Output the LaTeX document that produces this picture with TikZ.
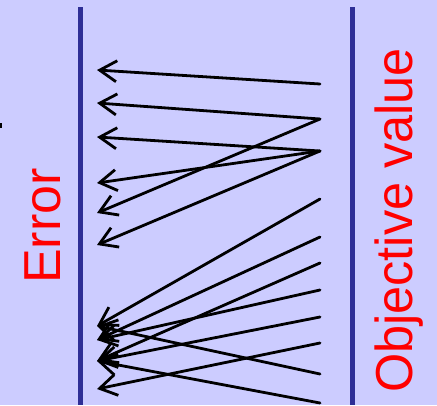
\documentclass[tikz,border=0pt]{standalone}
\usepackage{fontspec}
\setmainfont{Liberation Sans}
\usepackage{xcolor}
\usetikzlibrary{arrows.meta}

\definecolor{slide}{RGB}{204,204,255}
\definecolor{axisblue}{RGB}{46,46,150}

\begin{document}
\begin{tikzpicture}[
  x=1pt, y=-1pt,
  axis/.style={
    draw=axisblue,
    line width=5pt
  },
  flow/.style={
    -{Straight Barb[length=17pt, width=21pt, line width=2.8pt]},
    line width=2.8pt,
    line cap=round
  },
  label/.style={
    text=red,
    font=\fontsize{52}{60}\selectfont,
    rotate=90,
    anchor=base west,
    inner sep=0pt
  }
]

% --- Background ------------------------------------------------------

\fill[slide] (0,0) rectangle (437,405);
\useasboundingbox (0,0) rectangle (437,405);
\fill[black] (0,123) rectangle (2,128);

% --- Axes ------------------------------------------------------------

\draw[axis] (80,7) -- (80,405);
\draw[axis] (352,7) -- (352,405);

\node[label] (err) at (60,284) {Error};
\node[label, xscale=0.97] (obj) at (412,393) {Objective value};

% --- Points on the objective side ------------------------------------

\coordinate (o1) at (320,84);
\coordinate (o2) at (320,119);
\coordinate (o3) at (320,151);
\coordinate (o4) at (320,199);
\coordinate (o5) at (320,237);
\coordinate (o6) at (320,263);
\coordinate (o7) at (320,290);
\coordinate (o8) at (320,317);
\coordinate (o9) at (320,343);
\coordinate (o10) at (320,374);
\coordinate (o11) at (320,403);

% --- Points on the error side ----------------------------------------

\coordinate (e1) at (97,70);
\coordinate (e2) at (97,103);
\coordinate (e3) at (97,137);
\coordinate (e4) at (97,183);
\coordinate (e5) at (97,213);
\coordinate (e6) at (97,245);
\coordinate (e7) at (97,326);
\coordinate (e8) at (97,340);
\coordinate (e9) at (97,361);
\coordinate (e10) at (97,389);

% --- Mappings --------------------------------------------------------

\draw[flow] (o1) -- (e1);
\draw[flow] (o2) -- (e2);
\draw[flow] (o3) -- (e3);
\draw[flow] (o3) -- (e4);
\draw[flow] (o2) -- (e5);
\draw[flow] (o3) -- (e6);

\draw[flow] (o4) -- (e7);
\draw[flow] (o5) -- (e8);
\draw[flow] (o6) -- (e9);
\draw[flow] (o7) -- (e8);
\draw[flow] (o8) -- (e9);
\draw[flow] (o9) -- (e10);
\draw[flow] (o10) -- (e7);
\draw[flow] (o11) -- (e9);

\end{tikzpicture}
\end{document}
